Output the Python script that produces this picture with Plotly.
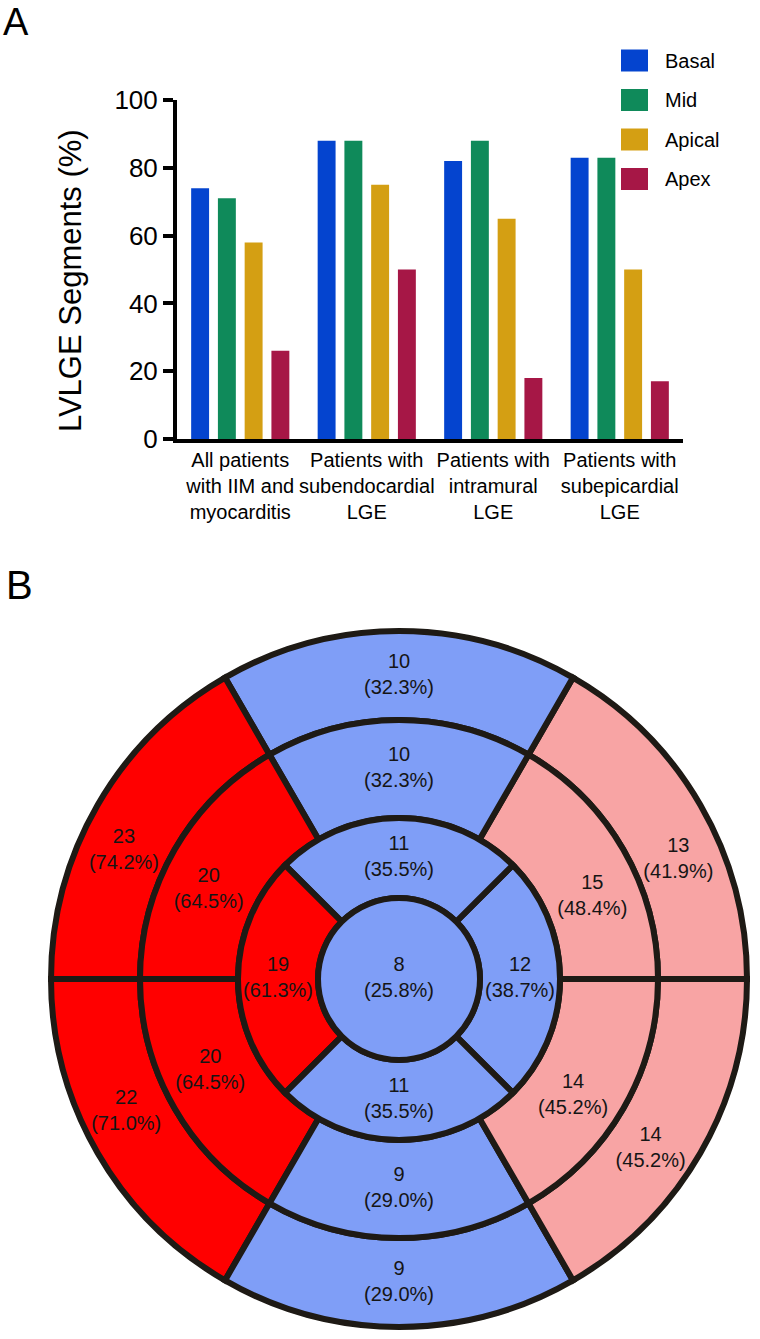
import plotly.graph_objects as go

W, H = 760, 1339


def px(x):
    return x / W


def py(y):
    return 1 - y / H


# ---------------- Panel A data ----------------
categories = [
    "All patients<br>with IIM and<br>myocarditis",
    "Patients with<br>subendocardial<br>LGE",
    "Patients with<br>intramural<br>LGE",
    "Patients with<br>subepicardial<br>LGE",
]
series_names = ["Basal", "Mid", "Apical", "Apex"]
basal_vals = [74, 88, 82, 83]
mid_vals = [71, 88, 88, 83]
apical_vals = [58, 75, 65, 50]
apex_vals = [26, 50, 18, 17]
y_ticks = [0, 20, 40, 60, 80, 100]
y_title = "LVLGE Segments (%)"

# ---------------- Panel B data ----------------
basal_seg_counts = [13, 10, 23, 22, 9, 14]
basal_seg_pct = [41.9, 32.3, 74.2, 71.0, 29.0, 45.2]
mid_seg_counts = [15, 10, 20, 20, 9, 14]
mid_seg_pct = [48.4, 32.3, 64.5, 64.5, 29.0, 45.2]
apical_seg_counts = [12, 11, 19, 11]
apical_seg_pct = [38.7, 35.5, 61.3, 35.5]
apex_seg_counts = [8]
apex_seg_pct = [25.8]

# ---------------- styles ----------------
bar_colors = ["#0444CF", "#0F8A5A", "#D49F13", "#A61746"]
FONT = "Liberation Sans, Arial, Helvetica, sans-serif"
EDGE = "#1e1a15"
RED, PINK, BLUE = "#FF0000", "#F8A4A4", "#7F9EF7"


def seg_color(p):
    if p >= 60:
        return RED
    if p >= 40:
        return PINK
    return BLUE


def seg_text(c, p):
    return f"{c}<br>({p:.1f}%)"


fig = go.Figure()

for name, vals, col in zip(series_names, [basal_vals, mid_vals, apical_vals, apex_vals], bar_colors):
    fig.add_trace(go.Bar(name=name, x=categories, y=vals, marker=dict(color=col, line=dict(width=0)),
                         showlegend=False, xaxis="x", yaxis="y"))

# ring geometry (degrees / radii in polar units)
six_centers = [30, 90, 150, 210, 270, 330]
six_label_theta = [23, 90, 155, 206, 270, 326]
four_centers = [0, 90, 180, 270]
R_APEX, R_APICAL, R_MID, R_BASAL = 81, 161, 259, 348

rings = [
    (basal_seg_counts, basal_seg_pct, six_centers, 60, R_MID, R_BASAL, six_label_theta),
    (mid_seg_counts, mid_seg_pct, six_centers, 60, R_APICAL, R_MID, six_label_theta),
    (apical_seg_counts, apical_seg_pct, four_centers, 90, R_APEX, R_APICAL, four_centers),
    (apex_seg_counts, apex_seg_pct, [0], 360, 0, R_APEX, [0]),
]

for counts, pcts, centers, width, r0, r1, lab_theta in rings:
    fig.add_trace(go.Barpolar(
        theta=centers, r=[r1 - r0] * len(centers), base=[r0] * len(centers),
        width=[width] * len(centers),
        marker=dict(color=[seg_color(p) for p in pcts], line=dict(color=EDGE, width=6)),
        showlegend=False, hoverinfo="skip", subplot="polar"))

for counts, pcts, centers, width, r0, r1, lab_theta in rings:
    rm = (r0 + r1) / 2 if r0 > 0 else 0
    fig.add_trace(go.Scatterpolar(
        theta=lab_theta, r=[rm] * len(centers), mode="text",
        text=[seg_text(c, p) for c, p in zip(counts, pcts)],
        textfont=dict(family=FONT, size=20, color="#151515"),
        showlegend=False, hoverinfo="skip", subplot="polar"))

shapes = []
annotations = []
# legend
leg_y = [60.5, 100, 139.5, 179]
for name, col, yc in zip(series_names, bar_colors, leg_y):
    shapes.append(dict(type="rect", xref="paper", yref="paper", x0=px(621), x1=px(648),
                       y0=py(yc + 11), y1=py(yc - 11), fillcolor=col, line=dict(width=0)))
    annotations.append(dict(text=name, x=px(663), y=py(yc), xref="paper", yref="paper",
                            xanchor="left", yanchor="middle", showarrow=False,
                            font=dict(family=FONT, size=20, color="black")))

annotations.append(dict(text=y_title, x=px(70), y=py(281), xref="paper", yref="paper", textangle=-90,
                        xanchor="center", yanchor="middle",
                        showarrow=False, font=dict(family=FONT, size=31, color="black")))
annotations.append(dict(text="A", x=px(16), y=py(22), xref="paper", yref="paper", showarrow=False,
                        xanchor="center", yanchor="middle",
                        font=dict(family=FONT, size=38, color="black")))
annotations.append(dict(text="B", x=px(19), y=py(585), xref="paper", yref="paper", showarrow=False,
                        xanchor="center", yanchor="middle",
                        font=dict(family=FONT, size=40, color="black")))

fig.update_layout(
    width=W, height=H, margin=dict(l=0, r=0, t=0, b=0, autoexpand=False),
    paper_bgcolor="white", plot_bgcolor="white",
    barmode="group", bargap=0.154, bargroupgap=0.33,
    font=dict(family=FONT, color="black"),
    xaxis=dict(domain=[px(177), px(683)], anchor="y", showline=True, linewidth=4, linecolor="black",
               ticks="", showgrid=False, zeroline=False, tickangle=0, automargin=False,
               tickfont=dict(size=20, color="black")),
    yaxis=dict(domain=[py(439), py(100)], anchor="x", range=[0, 100], tickvals=y_ticks,
               showline=True, linewidth=4, linecolor="black", ticks="outside", ticklen=10,
               tickwidth=4, tickcolor="black", showgrid=False, zeroline=False, automargin=False,
               tickfont=dict(size=26, color="black")),
    polar=dict(domain=dict(x=[px(399 - 352), px(399 + 352)], y=[py(979 + 352), py(979 - 352)]),
               bgcolor="rgba(0,0,0,0)", hole=0,
               radialaxis=dict(range=[0, 352], visible=False),
               angularaxis=dict(visible=False, rotation=0, direction="counterclockwise")),
    shapes=shapes, annotations=annotations,
)

fig.write_html("out.html", config={"displayModeBar": False},
               post_script="document.body.style.margin='0px';")
